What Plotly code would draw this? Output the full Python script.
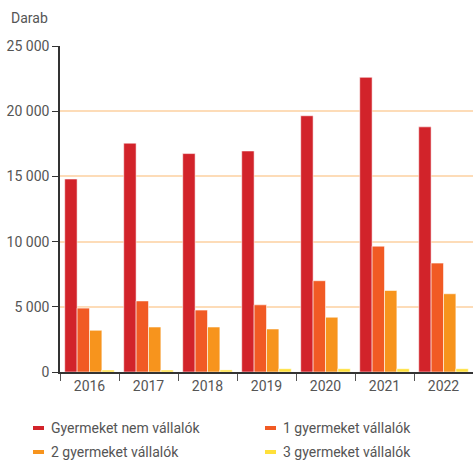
import plotly.graph_objects as go

years = ["2016", "2017", "2018", "2019", "2020", "2021", "2022"]
series_names = ["Gyermeket nem vállalók", "1 gyermeket vállalók",
                "2 gyermeket vállalók", "3 gyermeket vállalók"]
no_child = [14800, 17550, 16750, 16950, 19650, 22600, 18800]
one_child = [4900, 5450, 4750, 5150, 7000, 9650, 8350]
two_child = [3200, 3450, 3450, 3300, 4200, 6250, 6000]
three_child = [150, 150, 160, 250, 250, 250, 250]
y_ticks = [0, 5000, 10000, 15000, 20000, 25000]
colors = ["#D2232A", "#F15A24", "#F7941D", "#FFE03A"]

values = [no_child, one_child, two_child, three_child]
FONT = "Roboto, sans-serif"
TXT = "#555555"

fig = go.Figure()
for name, vals, col in zip(series_names, values, colors):
    fig.add_trace(go.Bar(
        x=years, y=vals, name=name, showlegend=False,
        marker=dict(color=col, line=dict(color="rgba(255,255,255,0.55)", width=1)),
    ))

W, H = 473, 462
L, R, T, B = 60, 0, 46, 90
pw, ph = W - L - R, H - T - B

def px(x):
    return (x - L) / pw

def py(y):
    return (H - B - y) / ph

shapes = []
annotations = []
legend_pos = [(33, 428), (265, 428), (33, 452), (265, 452)]
for (lx, ly), name, col in zip(legend_pos, series_names, colors):
    shapes.append(dict(type="rect", xref="paper", yref="paper",
                       x0=px(lx), x1=px(lx + 11), y0=py(ly + 2), y1=py(ly - 2),
                       fillcolor=col, line=dict(width=0)))
    annotations.append(dict(text=name, xref="paper", yref="paper",
                            x=px(lx + 16), y=py(ly), xanchor="left", yanchor="middle",
                            showarrow=False, font=dict(size=14, color=TXT, family=FONT)))

annotations.append(dict(text="Darab", xref="paper", yref="paper",
                        x=px(9), y=py(18), xanchor="left", yanchor="middle",
                        showarrow=False, font=dict(size=14, color=TXT, family=FONT)))

fig.update_layout(
    width=W, height=H,
    margin=dict(l=L, r=R, t=T, b=B),
    paper_bgcolor="white", plot_bgcolor="white",
    barmode="group", bargap=0.16, bargroupgap=0,
    separators=", ",
    font=dict(family=FONT, size=14, color=TXT),
    shapes=shapes, annotations=annotations,
    showlegend=False,
)
fig.update_yaxes(
    range=[0, 25000], tickvals=y_ticks, tickformat=",d",
    showgrid=True, gridcolor="#FDDCB8", gridwidth=1.5,
    showline=True, linecolor="#333333", linewidth=1.5,
    ticks="outside", ticklen=6, tickcolor="#333333",
    zeroline=False, fixedrange=True,
)
fig.update_xaxes(
    type="category", tickson="boundaries",
    showline=True, linecolor="#333333", linewidth=1.5,
    ticks="outside", ticklen=7, tickcolor="#555555",
    showgrid=False, fixedrange=True,
)
fig.write_html("out.html", config={"displayModeBar": False},
               post_script="document.body.style.margin='0';document.body.style.overflow='hidden';")
